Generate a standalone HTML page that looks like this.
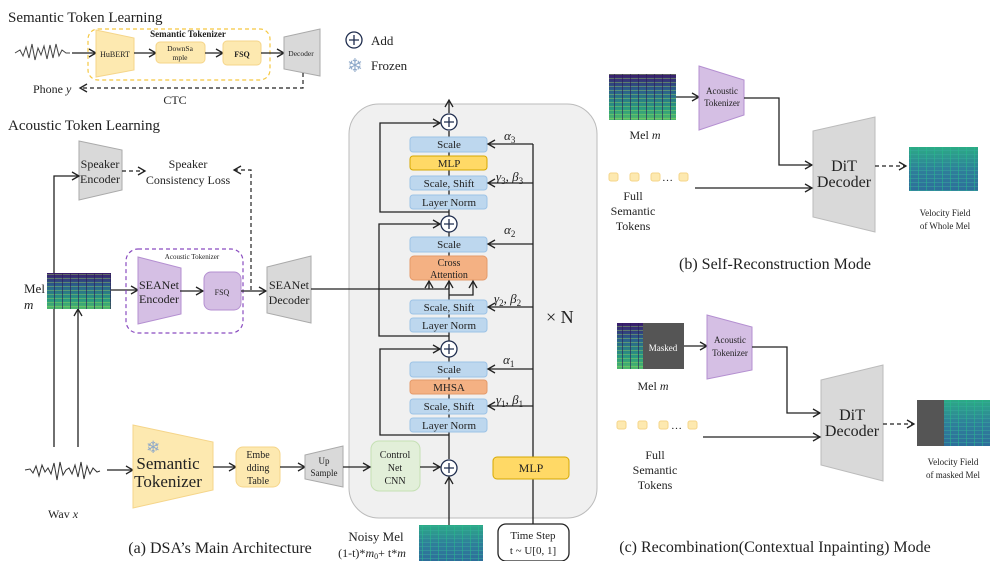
<!DOCTYPE html>
<html><head><meta charset="utf-8"><style>
html,body{margin:0;padding:0;background:#fff;}
svg{display:block;}
text{font-family:"Liberation Serif",serif;fill:#222;}
</style></head><body>
<svg width="996" height="561" viewBox="0 0 996 561" xmlns="http://www.w3.org/2000/svg">
<defs>
<marker id="ar" markerWidth="10" markerHeight="10" refX="8" refY="5" orient="auto" markerUnits="userSpaceOnUse">
<path d="M1,1 L8,5 L1,9" fill="none" stroke="#222" stroke-width="1.3"/></marker>
<linearGradient id="spec" x1="0" y1="0" x2="0" y2="1">
<stop offset="0" stop-color="#3a1a6a"/><stop offset="0.35" stop-color="#2b5f8c"/><stop offset="0.75" stop-color="#2a9a80"/><stop offset="1" stop-color="#4fb86a"/></linearGradient>
<linearGradient id="vel" x1="0" y1="0" x2="0" y2="1">
<stop offset="0" stop-color="#2bab85"/><stop offset="0.5" stop-color="#2f7f9a"/><stop offset="1" stop-color="#2d6e9a"/></linearGradient>
<pattern id="vstr" width="8" height="4" patternUnits="userSpaceOnUse">
<rect x="0" y="2" width="8" height="1" fill="#9ddc5a" opacity="0.4"/><rect x="6" y="0" width="1" height="4" fill="#2a1858" opacity="0.6"/></pattern>
<pattern id="vstr2" width="8" height="4" patternUnits="userSpaceOnUse">
<rect x="0" y="2" width="8" height="1" fill="#3aa8a0" opacity="0.5"/><rect x="6" y="0" width="1" height="4" fill="#25c08a" opacity="0.5"/></pattern>
</defs>

<text x="8" y="22" font-size="15">Semantic Token Learning</text>
<polyline points="15,53 20,50 23,56 26,47 29,58 32,44 35,60 38,48 41,55 44,46 47,59 50,45 53,58 56,44 59,56 62,50 66,53 70,53" fill="none" stroke="#444" stroke-width="1"/>
<line x1="72" y1="53" x2="96" y2="53" stroke="#222" stroke-width="1.3" marker-end="url(#ar)"/>
<rect x="88" y="29" width="182" height="51" rx="10" fill="none" stroke="#f5c842" stroke-width="1.2" stroke-dasharray="4,3"/>
<polygon points="96,30 134,38 134,70 96,77" fill="#fde9b0" stroke="#f5d58a"/>
<text x="115" y="57" font-size="8" text-anchor="middle">HuBERT</text>
<text x="188" y="37" font-size="9" text-anchor="middle" font-weight="bold">Semantic Tokenizer</text>
<line x1="134" y1="53" x2="156" y2="53" stroke="#222" stroke-width="1.3" marker-end="url(#ar)"/>
<rect x="156" y="42" width="49" height="21" rx="4" fill="#fde9b0" stroke="#f5d58a"/>
<text x="180" y="51" font-size="7.5" text-anchor="middle" fill="#555">DownSa</text>
<text x="180" y="60" font-size="7.5" text-anchor="middle" fill="#555">mple</text>
<line x1="205" y1="53" x2="223" y2="53" stroke="#222" stroke-width="1.3" marker-end="url(#ar)"/>
<rect x="223" y="41" width="38" height="24" rx="4" fill="#fde9b0" stroke="#f5d58a"/>
<text x="242" y="57" font-size="8" text-anchor="middle" font-weight="bold">FSQ</text>
<line x1="261" y1="53" x2="284" y2="53" stroke="#222" stroke-width="1.3" marker-end="url(#ar)"/>
<polygon points="284,37 320,29 320,76 284,69" fill="#d9d9d9" stroke="#aaa"/>
<text x="301" y="56" font-size="7.5" text-anchor="middle">Decoder</text>
<polyline points="303,73 303,88 80,88" fill="none" stroke="#222" stroke-width="1.2" stroke-dasharray="4,3" marker-end="url(#ar)"/>
<text x="33" y="93" font-size="12">Phone <tspan font-style="italic">y</tspan></text>
<text x="175" y="104" font-size="12" text-anchor="middle">CTC</text>
<circle cx="354" cy="40" r="8" fill="#fff" stroke="#1f2d4e" stroke-width="1.3"/>
<path d="M349,40 H359 M354,35 V45" stroke="#1f2d4e" stroke-width="1.3"/>
<text x="371" y="45" font-size="13">Add</text>
<text x="355" y="72" font-size="19" text-anchor="middle" style="fill:#8fa9c9">❄</text>
<text x="371" y="70" font-size="13">Frozen</text>

<text x="8" y="130" font-size="15">Acoustic Token Learning</text>
<polygon points="79,141 122,150 122,190 79,200" fill="#d9d9d9" stroke="#aaa"/>
<text x="100" y="168" font-size="12" text-anchor="middle">Speaker</text>
<text x="100" y="183" font-size="12" text-anchor="middle">Encoder</text>
<line x1="122" y1="171" x2="145" y2="171" stroke="#222" stroke-width="1.2" stroke-dasharray="4,3" marker-end="url(#ar)"/>
<text x="188" y="168" font-size="12" text-anchor="middle">Speaker</text>
<text x="188" y="184" font-size="12" text-anchor="middle">Consistency Loss</text>
<polyline points="251,290 251,170 234,170" fill="none" stroke="#222" stroke-width="1.2" stroke-dasharray="4,3" marker-end="url(#ar)"/>
<polyline points="54,447 54,176 79,176" fill="none" stroke="#222" stroke-width="1.3" marker-end="url(#ar)"/>
<line x1="78" y1="447" x2="78" y2="309" stroke="#222" stroke-width="1.3" marker-end="url(#ar)"/>
<rect x="47" y="273" width="64" height="36" fill="url(#spec)"/>
<rect x="47" y="273" width="64" height="36" fill="url(#vstr)"/>
<text x="24" y="293" font-size="13">Mel</text>
<text x="24" y="309" font-size="13" font-style="italic">m</text>
<line x1="111" y1="290" x2="138" y2="290" stroke="#222" stroke-width="1.3" marker-end="url(#ar)"/>
<rect x="126" y="249" width="117" height="84" rx="12" fill="none" stroke="#8a4cc0" stroke-width="1.2" stroke-dasharray="4,3"/>
<text x="192" y="259" font-size="7" text-anchor="middle" fill="#444">Acoustic Tokenizer</text>
<polygon points="138,257 181,268 181,314 138,324" fill="#d5bfe4" stroke="#b48fd1"/>
<text x="159" y="289" font-size="12" text-anchor="middle">SEANet</text>
<text x="159" y="303" font-size="12" text-anchor="middle">Encoder</text>
<line x1="180" y1="291" x2="203" y2="291" stroke="#222" stroke-width="1.3" marker-end="url(#ar)"/>
<rect x="204" y="272" width="37" height="38" rx="7" fill="#d5bfe4" stroke="#b48fd1"/>
<text x="222" y="295" font-size="8" text-anchor="middle">FSQ</text>
<line x1="241" y1="291" x2="266" y2="291" stroke="#222" stroke-width="1.3" marker-end="url(#ar)"/>
<polygon points="267,267 311,256 311,323 267,313" fill="#d9d9d9" stroke="#aaa"/>
<text x="289" y="289" font-size="12" text-anchor="middle">SEANet</text>
<text x="289" y="304" font-size="12" text-anchor="middle">Decoder</text>

<polyline points="25,470 30,469 33,473 36,466 39,476 42,465 45,472 48,468 51,474 54,463 57,480 60,462 63,475 66,470 69,468 72,474 75,465 78,477 81,462 84,479 87,466 90,474 93,468 97,472 100,471" fill="none" stroke="#333" stroke-width="1"/>
<text x="48" y="518" font-size="12">Wav <tspan font-style="italic">x</tspan></text>
<line x1="107" y1="470" x2="133" y2="470" stroke="#222" stroke-width="1.3" marker-end="url(#ar)"/>
<polygon points="133,425 213,442 213,490 133,508" fill="#fde9b0" stroke="#f5d58a"/>
<text x="146" y="453" font-size="17" style="fill:#8fa9c9">❄</text>
<text x="168" y="469" font-size="17" text-anchor="middle">Semantic</text>
<text x="168" y="487" font-size="17" text-anchor="middle">Tokenizer</text>
<line x1="213" y1="467" x2="236" y2="467" stroke="#222" stroke-width="1.3" marker-end="url(#ar)"/>
<rect x="236" y="447" width="44" height="40" rx="7" fill="#fde9b0" stroke="#f5d58a"/>
<text x="258" y="458" font-size="10" text-anchor="middle">Embe</text>
<text x="258" y="471" font-size="10" text-anchor="middle">dding</text>
<text x="258" y="484" font-size="10" text-anchor="middle">Table</text>
<line x1="280" y1="467" x2="305" y2="467" stroke="#222" stroke-width="1.3" marker-end="url(#ar)"/>
<polygon points="305,455 343,446 343,487 305,479" fill="#d9d9d9" stroke="#aaa"/>
<text x="324" y="464" font-size="9" text-anchor="middle">Up</text>
<text x="324" y="476" font-size="9" text-anchor="middle">Sample</text>
<text x="220" y="553" font-size="16" text-anchor="middle">(a) DSA’s Main Architecture</text>

<rect x="349" y="104" width="248" height="414" rx="30" fill="#f0f0f0" stroke="#bbb"/>
<line x1="449" y1="113" x2="449" y2="100" stroke="#222" stroke-width="1.3" marker-end="url(#ar)"/>
<line x1="449" y1="131" x2="449" y2="459" stroke="#222" stroke-width="1.3"/>
<polyline points="449,212 380,212 380,123 440,123" fill="none" stroke="#222" stroke-width="1.3" marker-end="url(#ar)"/>
<polyline points="449,336 379,336 379,224 440,224" fill="none" stroke="#222" stroke-width="1.3" marker-end="url(#ar)"/>
<polyline points="449,435 380,435 380,349 440,349" fill="none" stroke="#222" stroke-width="1.3" marker-end="url(#ar)"/>
<g font-size="11" text-anchor="middle">
<rect x="410" y="137" width="77" height="15" rx="3" fill="#bdd7ee" stroke="#9dc3e6"/><text x="449" y="148">Scale</text>
<rect x="410" y="156" width="77" height="14" rx="3" fill="#ffd966" stroke="#d6a800"/><text x="449" y="167">MLP</text>
<rect x="410" y="176" width="77" height="14" rx="3" fill="#bdd7ee" stroke="#9dc3e6"/><text x="449" y="187">Scale, Shift</text>
<rect x="410" y="195" width="77" height="14" rx="3" fill="#bdd7ee" stroke="#9dc3e6"/><text x="449" y="206">Layer Norm</text>
<rect x="410" y="237" width="77" height="15" rx="3" fill="#bdd7ee" stroke="#9dc3e6"/><text x="449" y="248">Scale</text>
<rect x="410" y="256" width="77" height="24" rx="4" fill="#f4b183" stroke="#e59a6a"/>
<text x="449" y="266" font-size="10">Cross</text><text x="449" y="278" font-size="10">Attention</text>
<rect x="410" y="300" width="77" height="14" rx="3" fill="#bdd7ee" stroke="#9dc3e6"/><text x="449" y="311">Scale, Shift</text>
<rect x="410" y="318" width="77" height="14" rx="3" fill="#bdd7ee" stroke="#9dc3e6"/><text x="449" y="329">Layer Norm</text>
<rect x="410" y="362" width="77" height="15" rx="3" fill="#bdd7ee" stroke="#9dc3e6"/><text x="449" y="373">Scale</text>
<rect x="410" y="380" width="77" height="14" rx="3" fill="#f4b183" stroke="#e59a6a"/><text x="449" y="391">MHSA</text>
<rect x="410" y="399" width="77" height="15" rx="3" fill="#bdd7ee" stroke="#9dc3e6"/><text x="449" y="410">Scale, Shift</text>
<rect x="410" y="418" width="77" height="14" rx="3" fill="#bdd7ee" stroke="#9dc3e6"/><text x="449" y="429">Layer Norm</text>
</g>
<line x1="311" y1="289" x2="449" y2="289" stroke="#222" stroke-width="1.3"/>
<line x1="429" y1="289" x2="429" y2="281" stroke="#222" stroke-width="1.3" marker-end="url(#ar)"/>
<line x1="449" y1="289" x2="449" y2="281" stroke="#222" stroke-width="1.3" marker-end="url(#ar)"/>
<polyline points="449,295 473,295 473,281" fill="none" stroke="#222" stroke-width="1.3" marker-end="url(#ar)"/>
<g stroke="#1f2d4e" stroke-width="1.3">
<circle cx="449" cy="122" r="8" fill="#fff"/><path d="M444,122 H454 M449,117 V127"/>
<circle cx="449" cy="224" r="8" fill="#fff"/><path d="M444,224 H454 M449,219 V229"/>
<circle cx="449" cy="349" r="8" fill="#fff"/><path d="M444,349 H454 M449,344 V354"/>
<circle cx="449" cy="468" r="8" fill="#fff"/><path d="M444,468 H454 M449,463 V473"/>
</g>
<line x1="533" y1="144" x2="533" y2="457" stroke="#222" stroke-width="1.3"/>
<line x1="533" y1="479" x2="533" y2="524" stroke="#222" stroke-width="1.3"/>
<line x1="533" y1="144" x2="488" y2="144" stroke="#222" stroke-width="1.3" marker-end="url(#ar)"/>
<line x1="533" y1="183" x2="488" y2="183" stroke="#222" stroke-width="1.3" marker-end="url(#ar)"/>
<line x1="533" y1="244" x2="488" y2="244" stroke="#222" stroke-width="1.3" marker-end="url(#ar)"/>
<line x1="533" y1="307" x2="488" y2="307" stroke="#222" stroke-width="1.3" marker-end="url(#ar)"/>
<line x1="533" y1="369" x2="488" y2="369" stroke="#222" stroke-width="1.3" marker-end="url(#ar)"/>
<line x1="533" y1="406" x2="488" y2="406" stroke="#222" stroke-width="1.3" marker-end="url(#ar)"/>
<g font-size="13" font-style="italic">
<text x="504" y="140">α<tspan font-size="9" dy="3" font-style="normal">3</tspan></text>
<text x="496" y="181">γ<tspan font-size="9" dy="3" font-style="normal">3</tspan><tspan dy="-3" font-style="normal">, </tspan>β<tspan font-size="9" dy="3" font-style="normal">3</tspan></text>
<text x="504" y="234">α<tspan font-size="9" dy="3" font-style="normal">2</tspan></text>
<text x="494" y="303">γ<tspan font-size="9" dy="3" font-style="normal">2</tspan><tspan dy="-3" font-style="normal">, </tspan>β<tspan font-size="9" dy="3" font-style="normal">2</tspan></text>
<text x="503" y="364">α<tspan font-size="9" dy="3" font-style="normal">1</tspan></text>
<text x="496" y="404">γ<tspan font-size="9" dy="3" font-style="normal">1</tspan><tspan dy="-3" font-style="normal">, </tspan>β<tspan font-size="9" dy="3" font-style="normal">1</tspan></text>
</g>
<text x="546" y="323" font-size="18">× N</text>
<rect x="371" y="441" width="49" height="50" rx="8" fill="#e2efd9" stroke="#c5e0b4"/>
<text x="395" y="458" font-size="10" text-anchor="middle">Control</text>
<text x="395" y="471" font-size="10" text-anchor="middle">Net</text>
<text x="395" y="484" font-size="10" text-anchor="middle">CNN</text>
<line x1="343" y1="467" x2="370" y2="467" stroke="#222" stroke-width="1.3" marker-end="url(#ar)"/>
<line x1="420" y1="467" x2="440" y2="467" stroke="#222" stroke-width="1.3" marker-end="url(#ar)"/>
<rect x="493" y="457" width="76" height="22" rx="4" fill="#ffd966" stroke="#d6a800"/>
<text x="531" y="472" font-size="12" text-anchor="middle">MLP</text>
<rect x="419" y="525" width="64" height="36" fill="url(#vel)"/>
<rect x="419" y="525" width="64" height="36" fill="url(#vstr2)"/>
<line x1="449" y1="525" x2="449" y2="477" stroke="#222" stroke-width="1.3" marker-end="url(#ar)"/>
<text x="376" y="541" font-size="13" text-anchor="middle">Noisy Mel</text>
<text x="372" y="557" font-size="12" text-anchor="middle">(1-t)*<tspan font-style="italic">m</tspan><tspan font-size="8" dy="2">0</tspan><tspan dy="-2">+ t*</tspan><tspan font-style="italic">m</tspan></text>
<rect x="498" y="524" width="71" height="37" rx="8" fill="#fff" stroke="#222" stroke-width="1.3"/>
<text x="533" y="539" font-size="11" text-anchor="middle">Time Step</text>
<text x="533" y="554" font-size="11" text-anchor="middle">t ~ U[0, 1]</text>

<rect x="609" y="74" width="67" height="46" fill="url(#spec)"/>
<rect x="609" y="74" width="67" height="46" fill="url(#vstr)"/>
<text x="645" y="139" font-size="12" text-anchor="middle">Mel <tspan font-style="italic">m</tspan></text>
<line x1="676" y1="97" x2="699" y2="97" stroke="#222" stroke-width="1.3" marker-end="url(#ar)"/>
<polygon points="699,66 744,80 744,115 699,130" fill="#d5bfe4" stroke="#b48fd1"/>
<text x="722" y="94" font-size="9" text-anchor="middle">Acoustic</text>
<text x="722" y="106" font-size="9" text-anchor="middle">Tokenizer</text>
<polyline points="744,98 779,98 779,165 812,165" fill="none" stroke="#222" stroke-width="1.3" marker-end="url(#ar)"/>
<polygon points="813,131 875,117 875,232 813,217" fill="#d9d9d9" stroke="#bbb"/>
<text x="844" y="171" font-size="16" text-anchor="middle">DiT</text>
<text x="844" y="187" font-size="16" text-anchor="middle">Decoder</text>
<g fill="#fde9b0" stroke="#f5d58a"><rect x="609" y="173" width="9" height="8" rx="2"/><rect x="630" y="173" width="9" height="8" rx="2"/><rect x="651" y="173" width="9" height="8" rx="2"/><rect x="679" y="173" width="9" height="8" rx="2"/></g>
<text x="662" y="181" font-size="11">…</text>
<line x1="695" y1="188" x2="812" y2="188" stroke="#222" stroke-width="1.3" marker-end="url(#ar)"/>
<text x="633" y="200" font-size="12" text-anchor="middle">Full</text>
<text x="633" y="215" font-size="12" text-anchor="middle">Semantic</text>
<text x="633" y="230" font-size="12" text-anchor="middle">Tokens</text>
<line x1="875" y1="166" x2="906" y2="166" stroke="#222" stroke-width="1.3" stroke-dasharray="4,3" marker-end="url(#ar)"/>
<rect x="909" y="147" width="69" height="44" fill="url(#vel)"/>
<rect x="909" y="147" width="69" height="44" fill="url(#vstr2)"/>
<text x="945" y="216" font-size="9" text-anchor="middle">Velocity Field</text>
<text x="945" y="229" font-size="9" text-anchor="middle">of Whole Mel</text>
<text x="775" y="269" font-size="16" text-anchor="middle">(b) Self-Reconstruction Mode</text>

<rect x="617" y="323" width="27" height="46" fill="url(#spec)"/>
<rect x="617" y="323" width="27" height="46" fill="url(#vstr)"/>
<rect x="643" y="323" width="41" height="46" fill="#555"/>
<text x="663" y="351" font-size="9" text-anchor="middle" style="fill:#fff">Masked</text>
<text x="653" y="390" font-size="12" text-anchor="middle">Mel <tspan font-style="italic">m</tspan></text>
<line x1="684" y1="346" x2="707" y2="346" stroke="#222" stroke-width="1.3" marker-end="url(#ar)"/>
<polygon points="707,315 752,327 752,370 707,379" fill="#d5bfe4" stroke="#b48fd1"/>
<text x="730" y="343" font-size="9" text-anchor="middle">Acoustic</text>
<text x="730" y="356" font-size="9" text-anchor="middle">Tokenizer</text>
<polyline points="752,347 787,347 787,413 820,413" fill="none" stroke="#222" stroke-width="1.3" marker-end="url(#ar)"/>
<polygon points="821,380 883,365 883,481 821,465" fill="#d9d9d9" stroke="#bbb"/>
<text x="852" y="420" font-size="16" text-anchor="middle">DiT</text>
<text x="852" y="436" font-size="16" text-anchor="middle">Decoder</text>
<g fill="#fde9b0" stroke="#f5d58a"><rect x="617" y="421" width="9" height="8" rx="2"/><rect x="638" y="421" width="9" height="8" rx="2"/><rect x="659" y="421" width="9" height="8" rx="2"/><rect x="688" y="421" width="9" height="8" rx="2"/></g>
<text x="671" y="429" font-size="11">…</text>
<line x1="703" y1="437" x2="820" y2="437" stroke="#222" stroke-width="1.3" marker-end="url(#ar)"/>
<text x="655" y="459" font-size="12" text-anchor="middle">Full</text>
<text x="655" y="474" font-size="12" text-anchor="middle">Semantic</text>
<text x="655" y="489" font-size="12" text-anchor="middle">Tokens</text>
<line x1="883" y1="424" x2="914" y2="424" stroke="#222" stroke-width="1.3" stroke-dasharray="4,3" marker-end="url(#ar)"/>
<rect x="944" y="400" width="46" height="46" fill="url(#vel)"/>
<rect x="944" y="400" width="46" height="46" fill="url(#vstr2)"/>
<rect x="917" y="400" width="27" height="46" fill="#555"/>
<text x="953" y="465" font-size="9" text-anchor="middle">Velocity Field</text>
<text x="953" y="478" font-size="9" text-anchor="middle">of masked Mel</text>
<text x="775" y="552" font-size="16" text-anchor="middle">(c) Recombination(Contextual Inpainting) Mode</text>
</svg>
</body></html>
